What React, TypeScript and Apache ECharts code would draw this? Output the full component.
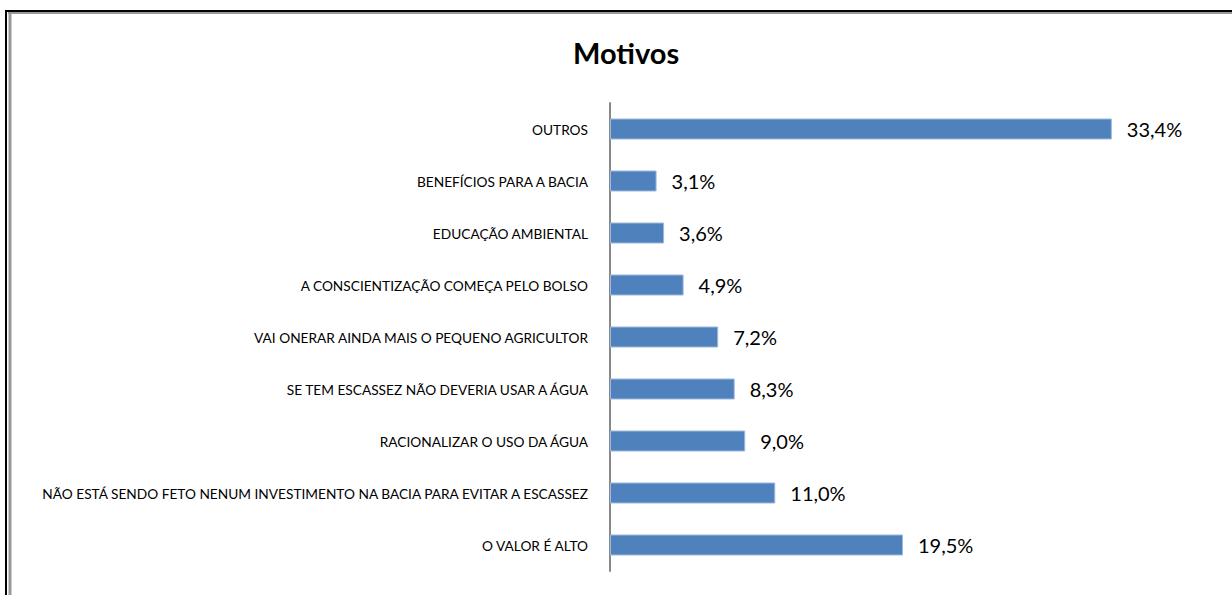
import React, { useEffect, useRef } from "react";
import * as echarts from "echarts";

const categories = [
  "O VALOR É ALTO",
  "NÃO ESTÁ SENDO FETO NENUM INVESTIMENTO NA BACIA PARA EVITAR A ESCASSEZ",
  "RACIONALIZAR O USO DA ÁGUA",
  "SE TEM ESCASSEZ NÃO DEVERIA USAR A ÁGUA",
  "VAI ONERAR AINDA MAIS O PEQUENO AGRICULTOR",
  "A CONSCIENTIZAÇÃO COMEÇA PELO BOLSO",
  "EDUCAÇÃO AMBIENTAL",
  "BENEFÍCIOS PARA A BACIA",
  "OUTROS",
];
const values = [19.5, 11.0, 9.0, 8.3, 7.2, 4.9, 3.6, 3.1, 33.4];
const titleText = "Motivos";

export default function App() {
  const ref = useRef<HTMLDivElement>(null);
  useEffect(() => {
    if (!ref.current) return;
    const chart = echarts.init(ref.current, null, { renderer: "svg" });
    chart.setOption({
      animation: false,
      backgroundColor: "#ffffff",
      title: {
        text: titleText,
        left: 568,
        top: 33,
        textStyle: { fontFamily: "Lato", fontWeight: "bold", fontSize: 29, color: "#000" },
      },
      graphic: [
        { type: "line", shape: { x1: 6, y1: 10, x2: 6, y2: 600 }, style: { stroke: "#000", lineWidth: 2 } },
        { type: "line", shape: { x1: 5, y1: 11, x2: 1240, y2: 11 }, style: { stroke: "#000", lineWidth: 2 } },
        { type: "line", shape: { x1: 10, y1: 12, x2: 10, y2: 600 }, style: { stroke: "#999", lineWidth: 3 } },
        { type: "line", shape: { x1: 8, y1: 13, x2: 1240, y2: 13 }, style: { stroke: "#999", lineWidth: 2 } },
      ],
      grid: { left: 610, right: 21, top: 103, bottom: 24, containLabel: false },
      xAxis: {
        type: "value",
        min: 0,
        max: 40,
        show: false,
        splitLine: { show: false },
      },
      yAxis: {
        type: "category",
        data: categories,
        axisLine: { show: true, lineStyle: { color: "#888", width: 2 } },
        axisTick: { show: false },
        axisLabel: { margin: 22, fontFamily: "Lato", fontSize: 13.7, color: "#000" },
      },
      series: [
        {
          type: "bar",
          data: values,
          barWidth: 21,
          itemStyle: { color: "#4F81BD", borderColor: "#9DB9DE", borderWidth: 1 },
          label: {
            show: true,
            position: "right",
            distance: 15,
            fontFamily: "Lato",
            fontSize: 20,
            color: "#000",
            formatter: (p: any) => p.value.toFixed(1).replace(".", ",") + "%",
          },
        },
      ],
    });
    return () => chart.dispose();
  }, []);
  return (
    <div
      ref={ref}
      style={{ position: "absolute", left: 0, top: 0, width: 1232, height: 595 }}
    />
  );
}
